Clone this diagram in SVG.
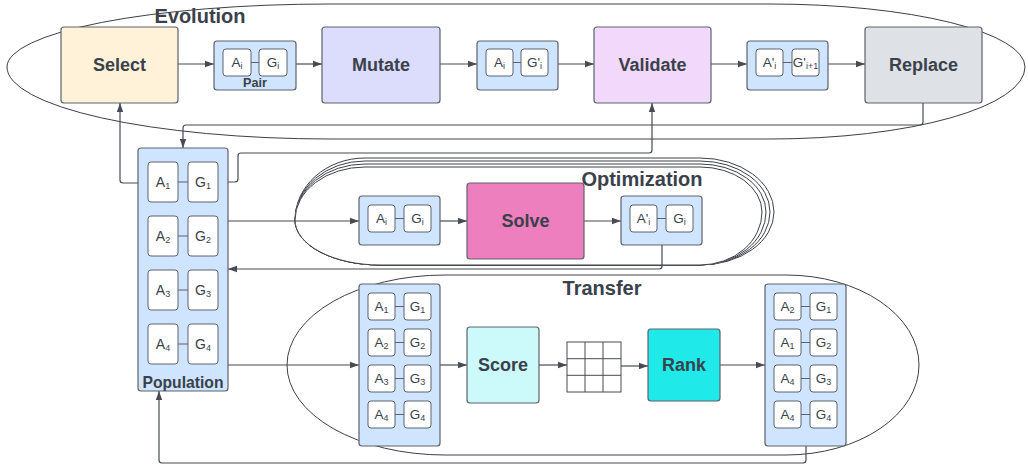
<svg xmlns="http://www.w3.org/2000/svg" width="1028" height="465" viewBox="0 0 1028 465">
<defs>
<marker id="ah" markerWidth="9" markerHeight="8" refX="9" refY="4" orient="auto" markerUnits="userSpaceOnUse"><path d="M0,0.8 L9,4 L0,7.2 Z" fill="#474b53"/></marker>
<style>
.cont{fill:none;stroke:#3c4048;stroke-width:1}
.stack{fill:#fff;stroke:#3c4048;stroke-width:1}
.big{stroke:#5d626b;stroke-width:1.2}
.grp{fill:#cfe4ff;stroke:#5d626b;stroke-width:1.2}
.cell{fill:#fff;stroke:#5d626b;stroke-width:1}
.link{stroke:#5d626b;stroke-width:1}
.lbl{font-family:"Liberation Sans",Arial,sans-serif;font-weight:bold;font-size:18px;fill:#3a414a;text-anchor:middle}
.title{font-family:"Liberation Sans",Arial,sans-serif;font-weight:bold;font-size:20px;fill:#3a414a;text-anchor:middle}
.ct{font-family:"Liberation Sans",Arial,sans-serif;font-size:13.5px;fill:#3a414a;text-anchor:middle}
.sub{font-size:9px}
.conn{fill:none;stroke:#474b53;stroke-width:1.2;stroke-linejoin:round}
</style>
</defs>
<rect width="1028" height="465" fill="#fff"/>

<!-- containers -->
<g id="evolution">
<path class="cont" d="M330 4 H770 A255 63 0 0 1 1025 67 A255 72 0 0 1 770 139 H330 A323 72 0 0 1 7 67 A323 63 0 0 1 330 4 Z"/>
<text class="title" x="200" y="23">Evolution</text>
</g>
<g id="optimization">
<path class="stack" d="M295 220 A70 62 0 0 1 365 158 H700 A74 54 0 0 1 774 212 A74 53 0 0 1 700 265 H380 A85 45 0 0 1 295 220 Z"/>
<path class="stack" d="M295 220 A70 59 0 0 1 365 161 H700 A70 51 0 0 1 770 212 A70 53 0 0 1 700 265 H380 A85 45 0 0 1 295 220 Z"/>
<path class="stack" d="M295 220 A70 56 0 0 1 365 164 H700 A66 48 0 0 1 766 212 A66 53 0 0 1 700 265 H380 A85 45 0 0 1 295 220 Z"/>
<path class="stack" d="M295 220 A70 53 0 0 1 365 167 H700 A62 45 0 0 1 762 212 A62 53 0 0 1 700 265 H380 A85 45 0 0 1 295 220 Z"/>
<text class="title" x="642" y="186">Optimization</text>
</g>
<g id="transfer">
<path class="cont" d="M287 365 A158 90 0 0 1 445 275 H786 A133 90 0 0 1 919 365 A133 90 0 0 1 786 455 H445 A158 90 0 0 1 287 365 Z"/>
<text class="title" x="602" y="295">Transfer</text>
</g>

<!-- connectors -->
<g id="connectors">
<path class="conn" marker-end="url(#ah)" d="M178 64 H214"/>
<path class="conn" marker-end="url(#ah)" d="M296 64 H322"/>
<path class="conn" marker-end="url(#ah)" d="M440 64 H477"/>
<path class="conn" marker-end="url(#ah)" d="M558 64 H594"/>
<path class="conn" marker-end="url(#ah)" d="M711 64 H747"/>
<path class="conn" marker-end="url(#ah)" d="M828 64 H865"/>
<path class="conn" marker-end="url(#ah)" d="M923 103 V122 Q923 125 920 125 H186 Q183 125 183 128 V148"/>
<path class="conn" marker-end="url(#ah)" d="M138 183 H123 Q120 183 120 180 V103"/>
<path class="conn" marker-end="url(#ah)" d="M228 182 H235 Q238 182 238 179 V156 Q238 153 241 153 H649 Q652 153 652 150 V103"/>
<path class="conn" marker-end="url(#ah)" d="M228 221 H359"/>
<path class="conn" marker-end="url(#ah)" d="M440 221 H467"/>
<path class="conn" marker-end="url(#ah)" d="M584 221 H621"/>
<path class="conn" marker-end="url(#ah)" d="M662 245 V266 Q662 269 659 269 H228"/>
<path class="conn" marker-end="url(#ah)" d="M228 365 H359"/>
<path class="conn" marker-end="url(#ah)" d="M440 365 H467"/>
<path class="conn" marker-end="url(#ah)" d="M539 365 H567"/>
<path class="conn" marker-end="url(#ah)" d="M621 366 H648"/>
<path class="conn" marker-end="url(#ah)" d="M720 365 H765"/>
<path class="conn" marker-end="url(#ah)" d="M806 446 V460 Q806 463 803 463 H162 Q159 463 159 460 V391"/>
</g>

<!-- Evolution nodes -->
<g id="select"><rect class="big" x="61" y="27" width="117" height="76" rx="3" fill="#fff2d9"/><text class="lbl" x="119.5" y="71">Select</text></g>
<g id="pair">
<rect class="grp" x="214" y="41" width="82" height="49" rx="3"/>
<line class="link" x1="251" y1="62.5" x2="259" y2="62.5"/>
<rect class="cell" x="223" y="49" width="28" height="27" rx="3"/><text class="ct" x="237" y="67">A<tspan class="sub" dy="2">i</tspan></text>
<rect class="cell" x="259" y="49" width="28" height="27" rx="3"/><text class="ct" x="273" y="67">G<tspan class="sub" dy="2">i</tspan></text>
<text class="lbl" style="font-size:12.7px" x="255" y="87">Pair</text>
</g>
<g id="mutate"><rect class="big" x="322" y="27" width="118" height="76" rx="3" fill="#dcdcfc"/><text class="lbl" x="381" y="71">Mutate</text></g>
<g id="pair2">
<rect class="grp" x="477" y="41" width="81" height="49" rx="3"/>
<line class="link" x1="513" y1="62.5" x2="521" y2="62.5"/>
<rect class="cell" x="486" y="49" width="27" height="27" rx="3"/><text class="ct" x="499.5" y="67">A<tspan class="sub" dy="2">i</tspan></text>
<rect class="cell" x="521" y="49" width="27" height="27" rx="3"/><text class="ct" x="534.5" y="67">G'<tspan class="sub" dy="2">i</tspan></text>
</g>
<g id="validate"><rect class="big" x="594" y="27" width="117" height="76" rx="3" fill="#f2d9fb"/><text class="lbl" x="652.5" y="71">Validate</text></g>
<g id="pair3">
<rect class="grp" x="747" y="41" width="81" height="49" rx="3"/>
<line class="link" x1="783" y1="62.5" x2="792" y2="62.5"/>
<rect class="cell" x="756" y="49" width="27" height="27" rx="3"/><text class="ct" x="769.5" y="67">A'<tspan class="sub" dy="2">i</tspan></text>
<rect class="cell" x="792" y="49" width="27" height="27" rx="3"/><text class="ct" x="805.5" y="67">G'<tspan class="sub" dy="2">i+1</tspan></text>
</g>
<g id="replace"><rect class="big" x="865" y="27" width="117" height="76" rx="3" fill="#dee1e6"/><text class="lbl" x="923.5" y="71">Replace</text></g>

<!-- Population -->
<g id="population">
<rect class="grp" x="138" y="148" width="90" height="243" rx="3"/>
<line class="link" x1="178" y1="182" x2="188" y2="182"/>
<line class="link" x1="178" y1="236" x2="188" y2="236"/>
<line class="link" x1="178" y1="290" x2="188" y2="290"/>
<line class="link" x1="178" y1="344" x2="188" y2="344"/>
<rect class="cell" x="148" y="162" width="30" height="40" rx="3"/><text class="ct" style="font-size:14px" x="163" y="187">A<tspan class="sub" dy="2">1</tspan></text>
<rect class="cell" x="188" y="162" width="30" height="40" rx="3"/><text class="ct" style="font-size:14px" x="203" y="187">G<tspan class="sub" dy="2">1</tspan></text>
<rect class="cell" x="148" y="216" width="30" height="40" rx="3"/><text class="ct" style="font-size:14px" x="163" y="241">A<tspan class="sub" dy="2">2</tspan></text>
<rect class="cell" x="188" y="216" width="30" height="40" rx="3"/><text class="ct" style="font-size:14px" x="203" y="241">G<tspan class="sub" dy="2">2</tspan></text>
<rect class="cell" x="148" y="270" width="30" height="40" rx="3"/><text class="ct" style="font-size:14px" x="163" y="295">A<tspan class="sub" dy="2">3</tspan></text>
<rect class="cell" x="188" y="270" width="30" height="40" rx="3"/><text class="ct" style="font-size:14px" x="203" y="295">G<tspan class="sub" dy="2">3</tspan></text>
<rect class="cell" x="148" y="324" width="30" height="40" rx="3"/><text class="ct" style="font-size:14px" x="163" y="349">A<tspan class="sub" dy="2">4</tspan></text>
<rect class="cell" x="188" y="324" width="30" height="40" rx="3"/><text class="ct" style="font-size:14px" x="203" y="349">G<tspan class="sub" dy="2">4</tspan></text>
<text class="lbl" style="font-size:15.7px" x="183" y="388">Population</text>
</g>

<!-- Optimization nodes -->
<g id="opt-pair">
<rect class="grp" x="359" y="196" width="81" height="49" rx="3"/>
<line class="link" x1="395" y1="218.5" x2="404" y2="218.5"/>
<rect class="cell" x="368" y="205" width="27" height="27" rx="3"/><text class="ct" x="381.5" y="223">A<tspan class="sub" dy="2">i</tspan></text>
<rect class="cell" x="404" y="205" width="27" height="27" rx="3"/><text class="ct" x="417.5" y="223">G<tspan class="sub" dy="2">i</tspan></text>
</g>
<g id="solve"><rect class="big" x="467" y="183" width="117" height="76" rx="3" fill="#ee7fbf"/><text class="lbl" x="525.5" y="227">Solve</text></g>
<g id="opt-pair2">
<rect class="grp" x="621" y="196" width="81" height="49" rx="3"/>
<line class="link" x1="657" y1="218.5" x2="666" y2="218.5"/>
<rect class="cell" x="630" y="205" width="27" height="27" rx="3"/><text class="ct" x="643.5" y="223">A'<tspan class="sub" dy="2">i</tspan></text>
<rect class="cell" x="666" y="205" width="27" height="27" rx="3"/><text class="ct" x="679.5" y="223">G<tspan class="sub" dy="2">i</tspan></text>
</g>

<!-- Transfer nodes -->
<g id="transfer-list">
<rect class="grp" x="359" y="284" width="81" height="162" rx="3"/>
<line class="link" x1="395" y1="306.5" x2="404" y2="306.5"/>
<line class="link" x1="395" y1="342.5" x2="404" y2="342.5"/>
<line class="link" x1="395" y1="378.5" x2="404" y2="378.5"/>
<line class="link" x1="395" y1="414.5" x2="404" y2="414.5"/>
<rect class="cell" x="368" y="293" width="27" height="27" rx="3"/><text class="ct" x="381.5" y="311">A<tspan class="sub" dy="2">1</tspan></text>
<rect class="cell" x="404" y="293" width="27" height="27" rx="3"/><text class="ct" x="417.5" y="311">G<tspan class="sub" dy="2">1</tspan></text>
<rect class="cell" x="368" y="329" width="27" height="27" rx="3"/><text class="ct" x="381.5" y="347">A<tspan class="sub" dy="2">2</tspan></text>
<rect class="cell" x="404" y="329" width="27" height="27" rx="3"/><text class="ct" x="417.5" y="347">G<tspan class="sub" dy="2">2</tspan></text>
<rect class="cell" x="368" y="365" width="27" height="27" rx="3"/><text class="ct" x="381.5" y="383">A<tspan class="sub" dy="2">3</tspan></text>
<rect class="cell" x="404" y="365" width="27" height="27" rx="3"/><text class="ct" x="417.5" y="383">G<tspan class="sub" dy="2">3</tspan></text>
<rect class="cell" x="368" y="401" width="27" height="27" rx="3"/><text class="ct" x="381.5" y="419">A<tspan class="sub" dy="2">4</tspan></text>
<rect class="cell" x="404" y="401" width="27" height="27" rx="3"/><text class="ct" x="417.5" y="419">G<tspan class="sub" dy="2">4</tspan></text>
</g>
<g id="score"><rect class="big" x="467" y="327" width="72" height="76" rx="3" fill="#ccfafa"/><text class="lbl" x="503" y="371">Score</text></g>
<g id="matrix">
<rect x="567" y="342" width="54" height="50" fill="#fff" stroke="#474b53" stroke-width="1"/>
<path d="M585 342 V392 M603 342 V392 M567 358.7 H621 M567 375.3 H621" stroke="#474b53" stroke-width="1" fill="none"/>
</g>
<g id="rank"><rect class="big" x="648" y="329" width="72" height="72" rx="3" fill="#1fe9e9"/><text class="lbl" x="684" y="371">Rank</text></g>
<g id="ranked-list">
<rect class="grp" x="765" y="284" width="81" height="162" rx="3"/>
<line class="link" x1="801" y1="306.5" x2="810" y2="306.5"/>
<line class="link" x1="801" y1="342.5" x2="810" y2="342.5"/>
<line class="link" x1="801" y1="378.5" x2="810" y2="378.5"/>
<line class="link" x1="801" y1="414.5" x2="810" y2="414.5"/>
<rect class="cell" x="774" y="293" width="27" height="27" rx="3"/><text class="ct" x="787.5" y="311">A<tspan class="sub" dy="2">2</tspan></text>
<rect class="cell" x="810" y="293" width="27" height="27" rx="3"/><text class="ct" x="823.5" y="311">G<tspan class="sub" dy="2">1</tspan></text>
<rect class="cell" x="774" y="329" width="27" height="27" rx="3"/><text class="ct" x="787.5" y="347">A<tspan class="sub" dy="2">1</tspan></text>
<rect class="cell" x="810" y="329" width="27" height="27" rx="3"/><text class="ct" x="823.5" y="347">G<tspan class="sub" dy="2">2</tspan></text>
<rect class="cell" x="774" y="365" width="27" height="27" rx="3"/><text class="ct" x="787.5" y="383">A<tspan class="sub" dy="2">4</tspan></text>
<rect class="cell" x="810" y="365" width="27" height="27" rx="3"/><text class="ct" x="823.5" y="383">G<tspan class="sub" dy="2">3</tspan></text>
<rect class="cell" x="774" y="401" width="27" height="27" rx="3"/><text class="ct" x="787.5" y="419">A<tspan class="sub" dy="2">4</tspan></text>
<rect class="cell" x="810" y="401" width="27" height="27" rx="3"/><text class="ct" x="823.5" y="419">G<tspan class="sub" dy="2">4</tspan></text>
</g>
</svg>
